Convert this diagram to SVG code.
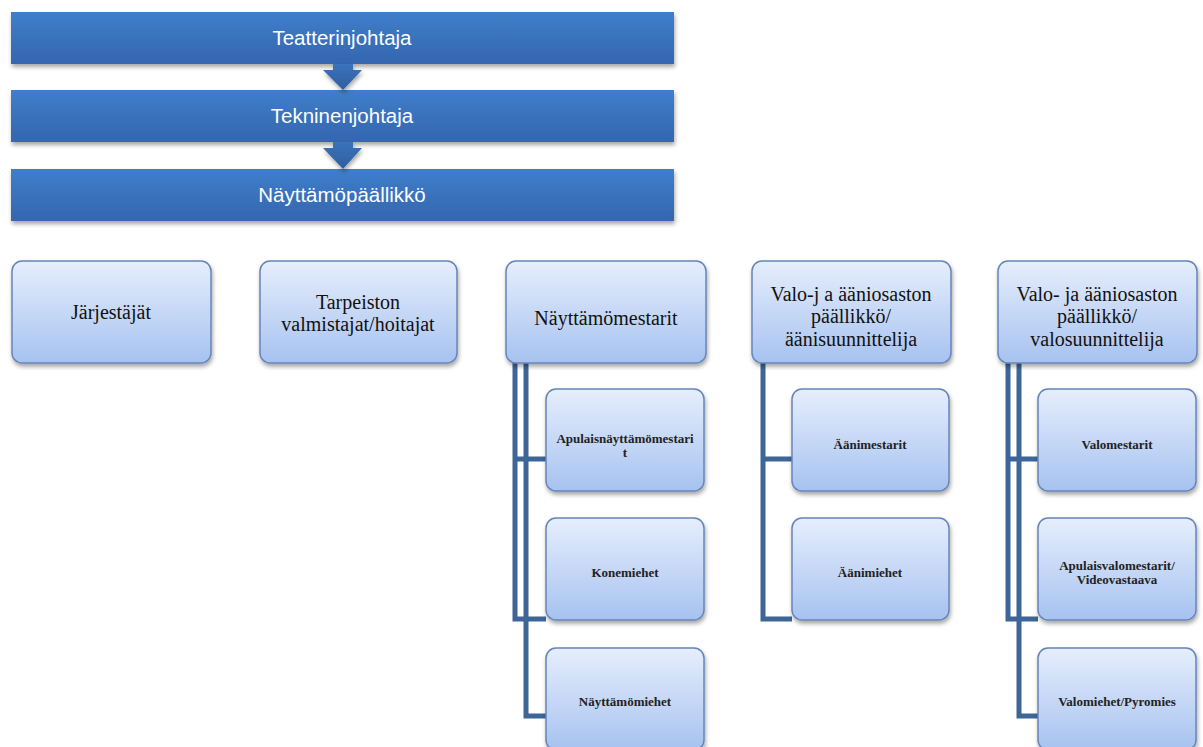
<svg xmlns="http://www.w3.org/2000/svg" width="1203" height="747" viewBox="0 0 1203 747">
<defs>
<linearGradient id="barG" x1="0" y1="0" x2="0" y2="1">
<stop offset="0" stop-color="#3F7ECB"/>
<stop offset="1" stop-color="#3466AE"/>
</linearGradient>
<linearGradient id="boxG" x1="0" y1="0" x2="0" y2="1">
<stop offset="0" stop-color="#E6EEFC"/>
<stop offset="1" stop-color="#A7C2F0"/>
</linearGradient>
<linearGradient id="arrG" x1="0" y1="0" x2="0" y2="1">
<stop offset="0" stop-color="#3A73BC"/>
<stop offset="1" stop-color="#2F5E9F"/>
</linearGradient>
<filter id="sh" x="-10%" y="-20%" width="120%" height="150%">
<feDropShadow dx="1" dy="3" stdDeviation="2" flood-color="#000" flood-opacity="0.35"/>
</filter>
</defs>
<style>
.bar{fill:url(#barG);filter:url(#sh)}
.bt{font-family:"Liberation Sans",Arial,sans-serif;font-size:20.5px;fill:#fff;text-anchor:middle}
.box{fill:url(#boxG);stroke:#6585BA;stroke-width:1.5;filter:url(#sh)}
.t1{font-family:"Liberation Serif","Times New Roman",serif;font-size:20px;fill:#111;text-anchor:middle}
.t2{font-family:"Liberation Serif","Times New Roman",serif;font-size:13px;font-weight:bold;fill:#222;text-anchor:middle}
.con{fill:none;stroke:#3D6597;stroke-width:5}
.arr{fill:url(#arrG);filter:url(#sh)}
</style>
<rect width="1203" height="747" fill="#fff"/>

<g id="n-teatterinjohtaja">
<rect class="bar" x="11" y="12" width="663" height="52"/>
<text class="bt" x="342" y="45">Teatterinjohtaja</text>
</g>
<g id="n-tekninenjohtaja">
<rect class="bar" x="11" y="90" width="663" height="52"/>
<text class="bt" x="342" y="123">Tekninenjohtaja</text>
</g>
<g id="n-nayttamopaallikko">
<rect class="bar" x="11" y="169" width="663" height="52"/>
<text class="bt" x="342" y="202">Näyttämöpäällikkö</text>
</g>

<g id="connectors">
<path class="arr" d="M333,64 H353 V70 H362 L343,90 L323,70 H333 Z"/>
<path class="arr" d="M333,142 H353 V148 H362 L343,169 L323,148 H333 Z"/>
<path class="con" d="M515,363 V619 H546 M515,459 H546"/>
<path class="con" d="M526,363 V716 H546"/>
<path class="con" d="M763,363 V619 H792 M763,459 H792"/>
<path class="con" d="M1008,363 V619 H1038 M1008,459 H1038"/>
<path class="con" d="M1019,363 V716 H1038"/>
</g>

<g id="n-jarjestajat">
<rect class="box" x="12" y="261" width="199" height="102" rx="10"/>
<text class="t1" x="111" y="319">Järjestäjät</text>
</g>
<g id="n-tarpeiston">
<rect class="box" x="260" y="261" width="197" height="102" rx="10"/>
<text class="t1" x="358" y="309">Tarpeiston</text>
<text class="t1" x="358" y="331">valmistajat/hoitajat</text>
</g>
<g id="n-nayttamomestarit">
<rect class="box" x="506" y="261" width="200" height="102" rx="10"/>
<text class="t1" x="606" y="325">Näyttämömestarit</text>
</g>
<g id="n-aani-paallikko">
<rect class="box" x="752" y="261" width="199" height="102" rx="10"/>
<text class="t1" x="851" y="301">Valo-j a ääniosaston</text>
<text class="t1" x="851" y="323">päällikkö/</text>
<text class="t1" x="851" y="346">äänisuunnittelija</text>
</g>
<g id="n-valo-paallikko">
<rect class="box" x="998" y="261" width="199" height="102" rx="10"/>
<text class="t1" x="1097" y="301">Valo- ja ääniosaston</text>
<text class="t1" x="1097" y="323">päällikkö/</text>
<text class="t1" x="1097" y="346">valosuunnittelija</text>
</g>

<g id="n-apulaisnayttamomestarit">
<rect class="box" x="546" y="389" width="158" height="102" rx="10"/>
<text class="t2" x="625" y="443">Apulaisnäyttämömestari</text>
<text class="t2" x="625" y="457">t</text>
</g>
<g id="n-konemiehet">
<rect class="box" x="546" y="518" width="158" height="102" rx="10"/>
<text class="t2" x="625" y="577">Konemiehet</text>
</g>
<g id="n-nayttamomiehet">
<rect class="box" x="546" y="648" width="158" height="102" rx="10"/>
<text class="t2" x="625" y="706">Näyttämömiehet</text>
</g>

<g id="n-aanimestarit">
<rect class="box" x="792" y="389" width="157" height="102" rx="10"/>
<text class="t2" x="870" y="449">Äänimestarit</text>
</g>
<g id="n-aanimiehet">
<rect class="box" x="792" y="518" width="157" height="102" rx="10"/>
<text class="t2" x="870" y="577">Äänimiehet</text>
</g>

<g id="n-valomestarit">
<rect class="box" x="1038" y="389" width="158" height="102" rx="10"/>
<text class="t2" x="1117" y="449">Valomestarit</text>
</g>
<g id="n-apulaisvalomestarit">
<rect class="box" x="1038" y="518" width="158" height="102" rx="10"/>
<text class="t2" x="1117" y="570">Apulaisvalomestarit/</text>
<text class="t2" x="1117" y="584">Videovastaava</text>
</g>
<g id="n-valomiehet">
<rect class="box" x="1038" y="648" width="158" height="102" rx="10"/>
<text class="t2" x="1117" y="706">Valomiehet/Pyromies</text>
</g>
</svg>
